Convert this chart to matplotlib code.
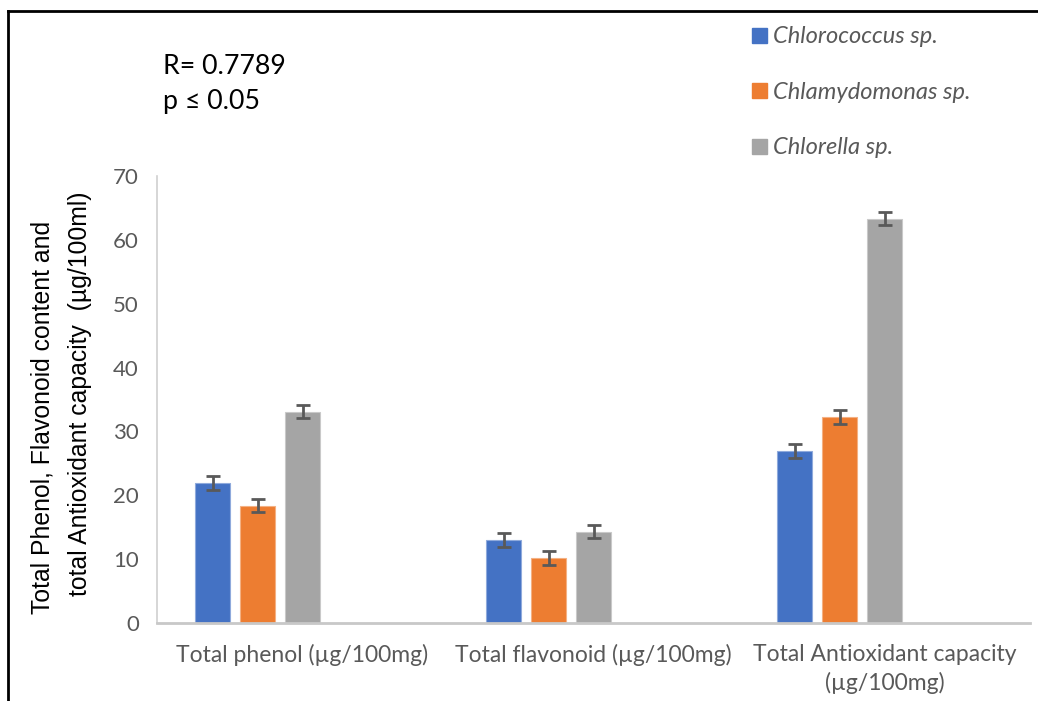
import matplotlib
matplotlib.use("Agg")
import matplotlib.pyplot as plt
from matplotlib.lines import Line2D
from matplotlib.patches import Patch

categories = ["Total phenol (µg/100mg)", "Total flavonoid (µg/100mg)",
              "Total Antioxidant capacity\n(µg/100mg)"]
series_names = ["Chlorococcus sp.", "Chlamydomonas sp.", "Chlorella sp."]
chlorococcus = [21.9, 13.0, 26.9]
chlamydomonas = [18.4, 10.2, 32.2]
chlorella = [33.1, 14.3, 63.3]
chlorococcus_err = [1.1, 1.05, 1.1]
chlamydomonas_err = [1.05, 1.05, 1.1]
chlorella_err = [1.05, 1.0, 1.0]
y_ticks = [0, 10, 20, 30, 40, 50, 60, 70]

colors = ["#4472C4", "#ED7D31", "#A5A5A5"]
edge_colors = ["#8FAADC", "#F4B183", "#C9C9C9"]
offsets = [-0.309, -0.154, 0.0]
bar_w = 0.12

W, H = 1038, 701
fig = plt.figure(figsize=(W / 100, H / 100), dpi=100)
fig.patch.set_facecolor("white")

ax = fig.add_axes([157 / W, 1 - 623 / H, (1030 - 157) / W, (623 - 176) / H])

values = [chlorococcus, chlamydomonas, chlorella]
errors = [chlorococcus_err, chlamydomonas_err, chlorella_err]
for k in range(3):
    xs = [i + offsets[k] for i in range(len(categories))]
    ax.bar(xs, values[k], width=bar_w, color=colors[k], edgecolor=edge_colors[k],
           linewidth=0.8, zorder=2)
    ax.errorbar(xs, values[k], yerr=errors[k], fmt="none", ecolor="#595959",
                elinewidth=2, capsize=5, capthick=2, zorder=3)

ax.set_xlim(-0.5, len(categories) - 0.5)
ax.set_ylim(0, 70)
ax.set_yticks(y_ticks)
ax.set_xticks(range(len(categories)))
ax.set_xticklabels(categories, fontfamily="Lato", fontsize=16.5, color="#595959",
                   linespacing=1.4)
ax.set_yticklabels([str(t) for t in y_ticks], fontfamily="Lato", fontsize=16,
                   color="#595959")
ax.tick_params(axis="both", length=0)
ax.tick_params(axis="x", pad=15)
ax.tick_params(axis="y", pad=13)
for side in ["top", "right"]:
    ax.spines[side].set_visible(False)
ax.spines["left"].set_color("#D0D0D0")
ax.spines["left"].set_linewidth(1.2)
ax.spines["bottom"].set_color("#C8C8C8")
ax.spines["bottom"].set_linewidth(2)

# y-axis title in two lines
fig.text(43 / W, 1 - 417 / H, "Total Phenol, Flavonoid content and",
         rotation=90, ha="center", va="center", fontsize=17.8,
         fontfamily="Liberation Sans", color="black")
fig.text(80 / W, 1 - 394 / H, "total Antioxidant capacity  (µg/100ml)",
         rotation=90, ha="center", va="center", fontsize=17.8,
         fontfamily="Liberation Sans", color="black")

# correlation annotation
fig.text(163 / W, 1 - 66 / H, "R= 0.7789", ha="left", va="center",
         fontsize=19.3, fontfamily="Lato", color="black")
fig.text(163 / W, 1 - 102 / H, "p ≤ 0.05", ha="left", va="center",
         fontsize=19.3, fontfamily=["Lato", "DejaVu Sans"], color="black")

# legend
handles = [Patch(facecolor=c, edgecolor=c) for c in colors]
leg = fig.legend(handles, series_names, loc="upper left",
                 bbox_to_anchor=(743 / W, 1 - 17 / H), frameon=False,
                 prop={"family": "Lato", "style": "italic", "size": 17},
                 handlelength=0.6, handleheight=0.6, handletextpad=0.25,
                 labelspacing=1.46, borderaxespad=0)
for t in leg.get_texts():
    t.set_color("#595959")

# outer frame
fig.add_artist(Line2D([8 / W, 1], [1 - 11 / H, 1 - 11 / H], color="black",
                      linewidth=2, transform=fig.transFigure))
fig.add_artist(Line2D([8 / W, 8 / W], [0, 1 - 11 / H], color="black",
                      linewidth=2, transform=fig.transFigure))

fig.savefig("out.png", dpi=100)
